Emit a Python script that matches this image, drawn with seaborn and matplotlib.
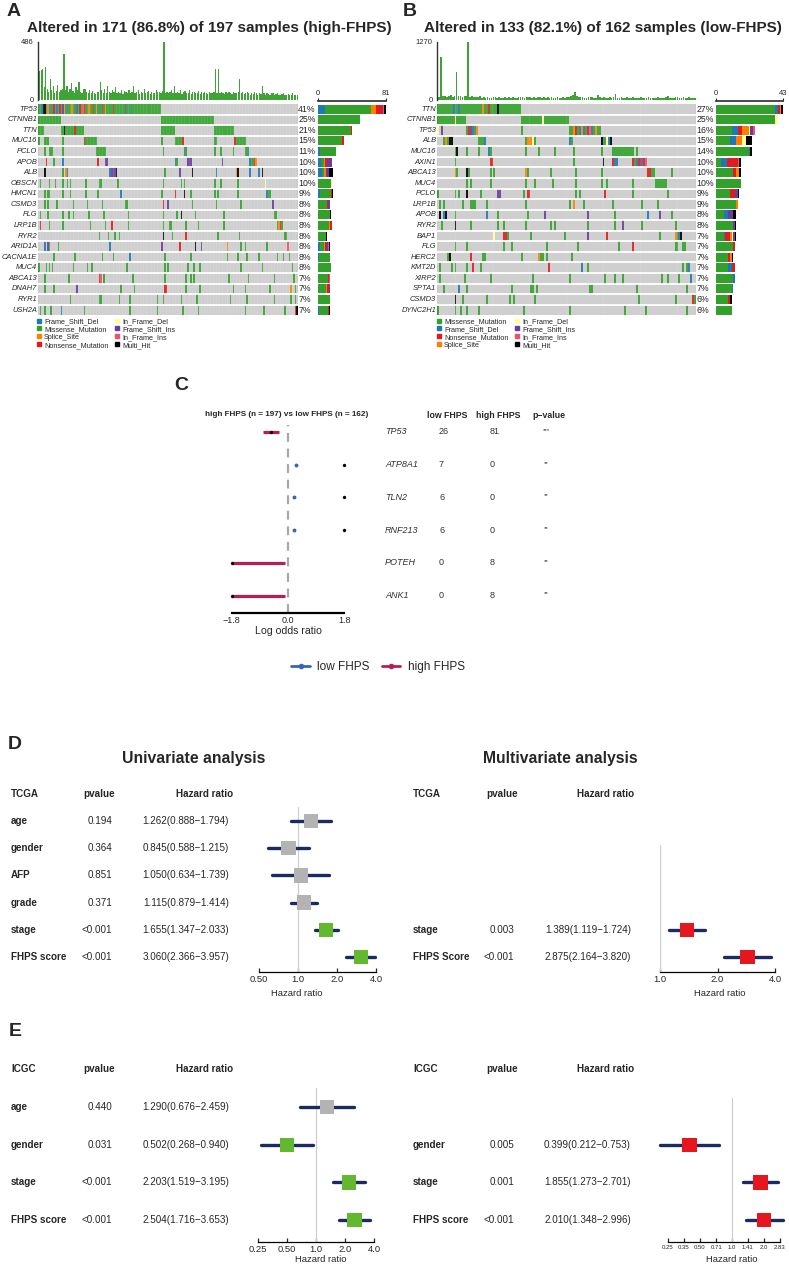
import matplotlib
matplotlib.use("Agg")
import matplotlib.pyplot as plt
import matplotlib.transforms as mtransforms
from matplotlib.colors import ListedColormap
from matplotlib.lines import Line2D
import numpy as np
import pandas as pd
import seaborn as sns

W, H = 789, 1265

# ---------------- oncoplot (panels A, B) ----------------
vc_types = ["Frame_Shift_Del", "Missense_Mutation", "Splice_Site", "Nonsense_Mutation",
            "In_Frame_Del", "Frame_Shift_Ins", "In_Frame_Ins", "Multi_Hit"]
vc_letters = "DMSNIFJX"
vc_colors = ["#1F78B4", "#33A02C", "#FF7F00", "#E31A1C",
             "#FFFF99", "#6A3D9A", "#F0506A", "#000000"]

high_title = "Altered in 171 (86.8%) of 197 samples (high-FHPS)"
high_n = 171
high_genes = ["TP53", "CTNNB1", "TTN", "MUC16", "PCLO", "APOB", "ALB", "OBSCN", "HMCN1", "CSMD3",
              "FLG", "LRP1B", "RYR2", "ARID1A", "CACNA1E", "MUC4", "ABCA13", "DNAH7", "RYR1", "USH2A"]
high_pct = ["41%", "25%", "21%", "15%", "11%", "10%", "10%", "10%", "9%", "8%",
            "8%", "8%", "8%", "8%", "8%", "8%", "7%", "7%", "7%", "7%"]
high_muts = [
    "M0-80 D2,7,9,12,19,25,40,61 S6,17,22,33,38,44 N10,14,27,30,36,42,49 F16,57 J29 X3,4",
    "M0-14,81-115",
    "M0-3,15-29,81-89,116-128 X17 N24",
    "M0,4-6,16,31-38,81,90-94,116,117,130-136 N30,95,129",
    "M4,7-9,16,38-44,82,97,116,120,128,136,137 D96,138",
    "M10,91,140,141 N5,39,142 D16,90,139 F44,45,98-100,121 S143",
    "M16,83 X4,51,101,131,147 S18,130 D19,47,117,139,145 F48-50,93",
    "M1,7,11,16,19,21,31,40,41,52,82,94,96,116,120,131 I149",
    "M4,6,7,16,21,31,39,81,100,116,118,131,151,152 D54,150 N90 X96",
    "M4,6,12,23,32,42,57,58,101,117,133 N82 F85,154",
    "M1,6,16,20,23,33,43,59,82,91,103,122,155,156 X94",
    "M7,16,34,44,59,82,86,87,97,105,122,157,160 N1,48,159 S158",
    "M40,46,50,53,88,118,132,162,163 X82 N97",
    "M7,13,133,136,150 D4,47 F6,81,107 N93 X103 S124 J164",
    "M10,24,42,49,83,100,124,131,137,145,157,161,165 D60",
    "M0,5,7,9,23,32,35,58,83,85,98,102,106,133,147,167",
    "M4,20,43,62,83,97,100,102,125,138,155,168 N40 J41",
    "M4,10,54,63,97,106,128,136,152,169 F25 N83,84 S166",
    "M21,40,41,53,60,78,82,94,104,126,137,155,166,169",
    "M1,4,8,30,60,78,95,105,136,148,162 D15 N169 X170",
]
high_tmb = [
    245, 255, 262, 110, 278, 95, 70, 175, 80, 117, 60, 75, 125, 68, 85, 90, 389, 80, 120,
    70, 95, 139, 75, 60, 110, 80, 153, 70, 55, 90, 89, 70, 60, 85, 55, 75, 60, 50,
    70, 65, 153, 80, 60, 95, 55, 117, 70, 60, 80, 65, 106, 55, 70, 60, 85, 50, 75,
    65, 55, 80, 60, 70, 117, 55, 65, 80, 50, 70, 60, 90, 55, 65, 75, 50, 70, 60,
    55, 80, 65, 70, 60, 75, 486, 60, 70, 55, 65, 80, 60, 117, 55, 70, 60, 80, 50,
    65, 75, 55, 60, 85, 50, 65, 70, 55, 60, 75, 50, 65, 55, 70, 60, 50, 65, 55,
    60, 70, 256, 60, 256, 55, 70, 60, 50, 65, 55, 70, 60, 50, 65, 55, 60, 70, 180,
    55, 65, 50, 60, 70, 55, 45, 60, 50, 65, 55, 45, 60, 50, 117, 55, 45, 60, 50,
    45, 55, 60, 45, 50, 55, 40, 45, 50, 55, 40, 45, 50, 40, 45, 55, 40, 45, 40,
]
high_legend = ["Frame_Shift_Del", "Missense_Mutation", "Splice_Site", "Nonsense_Mutation",
               "In_Frame_Del", "Frame_Shift_Ins", "In_Frame_Ins", "Multi_Hit"]

low_title = "Altered in 133 (82.1%) of 162 samples (low-FHPS)"
low_n = 133
low_genes = ["TTN", "CTNNB1", "TP53", "ALB", "MUC16", "AXIN1", "ABCA13", "MUC4", "PCLO", "LRP1B",
             "APOB", "RYR2", "BAP1", "FLG", "HERC2", "KMT2D", "XIRP2", "SPTA1", "CSMD3", "DYNC2H1"]
low_pct = ["27%", "25%", "16%", "15%", "14%", "10%", "10%", "10%", "9%", "9%",
           "8%", "8%", "7%", "7%", "7%", "7%", "7%", "7%", "6%", "6%"]
low_muts = [
    "M0-42 D8,11 S23 N26 X31",
    "M0-14,43-67 I9,54",
    "M15-20,43,68-83 I0 F2,17 N16,71,77 D18,73,75,79 S20,70,74,81 J78",
    "M3,5,21,22,23,45,50,69,86 S4,46,47,48 X6,7,84,89 D24,68,85,88 I49,87",
    "M9,15,21,27,45,52,60,70,84,90-100,102 X10 D26",
    "M9,70,101 N27,28,90,100,103,104,106 D91,92,102,105 X85 J107",
    "M10,16,27,29,46,58,71,84,110,111,120 S9,45 X15 N108,109",
    "M15,17,27,45,50,59,71,84,87,100,112-117",
    "M0,9,11,22,44,71,73,100,118 X15 F31,32 N46,47,86",
    "M1,3,13,17-19,25,45,68,75,90,105,113 S70",
    "M9,31,46,91,120 X1,4 D3,25,108 F55,77,114",
    "M2,17,31,34,45,58,60,77,91,105,122 X9 F95",
    "M36,48,65,114,123 I29 N34,35,87 F77 S122 D124 X125",
    "M9,15,34,38,56,72,93,122,123,126,127 N100",
    "X6 M5,23,24,43,53,54,56,69 N17 S52",
    "M1,7,9,15,22,77,126,128 N18,57 D74,129",
    "M1,14,27,49,68,86,91,95,115,118,124 D130",
    "M3,15,38,48,49,51,78,79,102,128 D11",
    "X9 M13,25,37,39,50,103,122,132 N131",
    "M0,9,12,15,21,44,68,96,107,128",
]
low_tmb = [
    60, 944, 80, 95, 70, 85, 100, 75, 90, 617, 80, 95, 70, 85, 90, 1270, 75, 80, 60, 70,
    55, 80, 50, 60, 45, 55, 40, 50, 60, 70, 45, 55, 40, 50, 65, 45, 55, 40, 60, 50,
    45, 70, 55, 60, 50, 65, 55, 70, 45, 60, 50, 55, 65, 45, 60, 50, 55, 40, 65, 50,
    45, 55, 40, 50, 60, 45, 55, 65, 85, 120, 181, 90, 60, 55, 70, 50, 45, 60, 55, 65,
    45, 50, 110, 60, 45, 55, 40, 50, 60, 45, 55, 130, 50, 45, 60, 40, 50, 55, 45, 40,
    55, 45, 50, 40, 60, 45, 50, 40, 55, 45, 40, 50, 45, 55, 40, 50, 45, 60, 80, 45,
    50, 40, 55, 70, 45, 50, 60, 45, 40, 55, 45, 50, 40,
]
low_legend = ["Missense_Mutation", "Frame_Shift_Del", "Nonsense_Mutation", "Splice_Site",
              "In_Frame_Del", "Frame_Shift_Ins", "In_Frame_Ins", "Multi_Hit"]

# ---------------- mafCompare forest (panel C) ----------------
mc_title = "high FHPS (n = 197) vs low FHPS (n = 162)"
mc_genes = ["TP53", "ATP8A1", "TLN2", "RNF213", "POTEH", "ANK1"]
mc_low = [26, 7, 6, 6, 0, 0]
mc_high = [81, 0, 0, 0, 8, 8]
mc_stars = ["***", "**", "**", "**", "**", "**"]
mc_log_or = [-0.54, 1.8, 1.8, 1.8, -1.8, -1.8]
mc_ci_lo = [-0.81, 0.27, 0.18, 0.18, -1.8, -1.8]
mc_ci_hi = [-0.28, 0.27, 0.18, 0.18, -0.11, -0.11]
mc_group = ["high FHPS", "low FHPS", "low FHPS", "low FHPS", "high FHPS", "high FHPS"]
mc_colors = {"low FHPS": "#3B64B4", "high FHPS": "#B5204F"}

# ---------------- Cox forest plots (panels D, E) ----------------
tcga_uni_vars = ["age", "gender", "AFP", "grade", "stage", "FHPS score"]
tcga_uni_p = ["0.194", "0.364", "0.851", "0.371", "<0.001", "<0.001"]
tcga_uni_hr = [1.262, 0.845, 1.050, 1.115, 1.655, 3.060]
tcga_uni_lo = [0.888, 0.588, 0.634, 0.879, 1.347, 2.366]
tcga_uni_hi = [1.794, 1.215, 1.739, 1.414, 2.033, 3.957]

tcga_multi_vars = ["stage", "FHPS Score"]
tcga_multi_p = ["0.003", "<0.001"]
tcga_multi_hr = [1.389, 2.875]
tcga_multi_lo = [1.119, 2.164]
tcga_multi_hi = [1.724, 3.820]

icgc_uni_vars = ["age", "gender", "stage", "FHPS score"]
icgc_uni_p = ["0.440", "0.031", "<0.001", "<0.001"]
icgc_uni_hr = [1.290, 0.502, 2.203, 2.504]
icgc_uni_lo = [0.676, 0.268, 1.519, 1.716]
icgc_uni_hi = [2.459, 0.940, 3.195, 3.653]

icgc_multi_vars = ["gender", "stage", "FHPS score"]
icgc_multi_p = ["0.005", "0.001", "<0.001"]
icgc_multi_hr = [0.399, 1.855, 2.010]
icgc_multi_lo = [0.212, 1.273, 1.348]
icgc_multi_hi = [0.753, 2.701, 2.996]

sns.set_theme(style="white")
plt.rcParams["font.family"] = ["Liberation Sans", "DejaVu Sans"]
plt.rcParams["axes.unicode_minus"] = True

fig = plt.figure(figsize=(W / 100, H / 100), dpi=100)


def px_axes(x0, y0, x1, y1):
    return fig.add_axes([x0 / W, 1 - y1 / H, (x1 - x0) / W, (y1 - y0) / H])


def ftext(x, y, s, **kw):
    fig.text(x / W, 1 - y / H, s, **kw)


def parse_muts(spec, n):
    row = np.zeros(n, dtype=int)
    for tok in spec.split():
        code = vc_letters.index(tok[0]) + 1
        for part in tok[1:].split(","):
            a, _, b = part.partition("-")
            b = b or a
            row[int(a):int(b) + 1] = code
    return row


onco_cmap = ListedColormap(["#CBCBCB"] + vc_colors)


def oncoplot(x0, x1, xs0, xs1, genes, pct, muts, tmb, n, legend_order, leg_x):
    mat = np.array([parse_muts(m, n) for m in muts])
    ng = len(genes)

    # mutation burden bars on top
    axt = px_axes(x0, 42, x1, 100)
    axt.bar(np.arange(n) + 0.5, tmb, width=0.85, color="#3FA435", linewidth=0)
    axt.set_xlim(-0.6, n)
    axt.set_ylim(0, max(tmb))
    axt.set_yticks([0, max(tmb)])
    axt.set_xticks([])
    for s in ["top", "right", "bottom"]:
        axt.spines[s].set_visible(False)
    axt.spines["left"].set_linewidth(1.0)
    axt.spines["left"].set_color("#333333")
    axt.tick_params(axis="y", labelsize=5.5, length=2, pad=1, width=0.8)

    # main matrix
    axm = px_axes(x0, 104, x1, 315.3)
    df = pd.DataFrame(mat, index=genes)
    sns.heatmap(df, cmap=onco_cmap, vmin=-0.5, vmax=8.5, cbar=False,
                linewidths=0, xticklabels=False, yticklabels=True, ax=axm)
    axm.vlines(np.arange(1, n), 0, ng, color="white", lw=0.2, alpha=0.6)
    for i in range(1, ng):
        axm.axhline(i, color="white", lw=1.3)
    axm.set_yticklabels(genes, rotation=0, fontstyle="italic", fontsize=5.4)
    axm.tick_params(axis="y", length=0, pad=0.6)
    axm.set_xlabel("")
    axm.set_ylabel("")
    for i, p in enumerate(pct):
        axm.text(n + 0.1, i + 0.5, p, ha="left", va="center", fontsize=6.3)

    # side bars by variant class
    axs = px_axes(xs0, 104, xs1, 315.3)
    left = np.zeros(ng)
    for t in legend_order:
        c = (mat == vc_types.index(t) + 1).sum(axis=1)
        axs.barh(np.arange(ng) + 0.5, c, left=left, height=0.85,
                 color=vc_colors[vc_types.index(t)], linewidth=0)
        left += c
    side_max = int(left.max())
    axs.set_ylim(ng, 0)
    axs.set_xlim(0, side_max)
    axs.xaxis.tick_top()
    axs.set_xticks([0, side_max])
    axs.set_yticks([])
    for s in ["bottom", "left", "right"]:
        axs.spines[s].set_visible(False)
    axs.spines["top"].set_position(("outward", 2))
    axs.spines["top"].set_color("#333333")
    axs.tick_params(axis="x", labelsize=5.5, length=2, pad=1, width=0.8)

    handles = [Line2D([], [], marker="s", ls="", ms=2.6,
                      color=vc_colors[vc_types.index(t)]) for t in legend_order]
    fig.legend(handles, legend_order, ncol=2, loc="upper left",
               bbox_to_anchor=(leg_x / W, 1 - 318 / H), frameon=False,
               fontsize=5.2, handlelength=0.7, handletextpad=0.4,
               columnspacing=0.9, labelspacing=0.12, borderpad=0,
               borderaxespad=0)


oncoplot(38, 298, 318, 386, high_genes, high_pct, high_muts, high_tmb, high_n,
         high_legend, 36)
oncoplot(437, 696, 716, 783, low_genes, low_pct, low_muts, low_tmb, low_n,
         low_legend, 436)
ftext(209, 28, high_title, ha="center", va="center", fontsize=11, fontweight="bold")
ftext(603, 28, low_title, ha="center", va="center", fontsize=11, fontweight="bold")

# ---------------- panel C ----------------
c_row0, c_rowh = 432, 32.7
axc = px_axes(231.7, 420, 344.3, 613)
ys = np.arange(len(mc_genes))
axc.set_xlim(-1.8, 1.8)
axc.set_ylim((613 - c_row0) / c_rowh, (420 - c_row0) / c_rowh)
axc.axvline(0, ymin=0, ymax=1 - 5 / 193, color="#A8A8A8", lw=1.6, ls=(0, (4, 3)))
for y, lo, hi, g in zip(ys, mc_ci_lo, mc_ci_hi, mc_group):
    if lo == hi:
        axc.plot([lo], [y], "o", ms=1.8, color=mc_colors[g], clip_on=False)
    else:
        axc.plot([lo, hi], [y, y], color=mc_colors[g], lw=2.3, clip_on=False,
                 solid_capstyle="butt")
sns.scatterplot(x=mc_log_or, y=ys, color="black", s=5, edgecolor=None, ax=axc,
                zorder=4, clip_on=False)
axc.set_xticks([-1.8, 0, 1.8])
axc.set_xticklabels(["\u22121.8", "0.0", "1.8"])
axc.set_yticks([])
for s in ["top", "left", "right"]:
    axc.spines[s].set_visible(False)
axc.spines["bottom"].set_linewidth(1.6)
axc.spines["bottom"].set_color("black")
axc.tick_params(axis="x", direction="in", length=3, width=1.4, labelsize=6.5, pad=2)
axc.set_xlabel("Log odds ratio", fontsize=7.6, labelpad=1)

trc = mtransforms.blended_transform_factory(fig.transFigure, axc.transData)
hy = (415 - c_row0) / c_rowh
axc.text(287 / W, hy, mc_title, transform=trc, ha="center", va="center",
         fontsize=5.9, fontweight="bold")
axc.text(447 / W, hy, "low FHPS", transform=trc, ha="center", va="center",
         fontsize=6.3, fontweight="bold")
axc.text(498 / W, hy, "high FHPS", transform=trc, ha="center", va="center",
         fontsize=6.3, fontweight="bold")
axc.text(549 / W, hy, "p\u2212value", transform=trc, ha="center", va="center",
         fontsize=6.3, fontweight="bold")
for y, g, a, b, st in zip(ys, mc_genes, mc_low, mc_high, mc_stars):
    axc.text(385 / W, y, g, transform=trc, ha="left", va="center", fontsize=6.5,
             fontstyle="italic", color="#333333")
    axc.text(439 / W, y, str(a), transform=trc, ha="left", va="center", fontsize=6.5,
             color="#333333")
    axc.text(490 / W, y, str(b), transform=trc, ha="left", va="center", fontsize=6.5,
             color="#333333")
    axc.text(546 / W, y - 0.05, st, transform=trc, ha="center", va="center",
             fontsize=4.5, color="#333333")

mc_handles = [Line2D([], [], color=mc_colors[k], lw=2, marker="o", ms=3)
              for k in ["low FHPS", "high FHPS"]]
fig.legend(mc_handles, ["low FHPS", "high FHPS"], ncol=2, loc="center",
           bbox_to_anchor=(378 / W, 1 - 667 / H), frameon=False, fontsize=8.5,
           handlelength=1.6, handletextpad=0.6, columnspacing=1.0)

# ---------------- panels D, E ----------------
NAVY = "#1B2A62"
GREEN = "#62B82F"
GREY = "#B3B3B3"
RED = "#E5161D"


def forest(x0, x1, ax_top, y_axis, row0, rowh, rows, names, pvals, hr, lo, hi,
           colors, xlim, ticks, ticklabels, tick_fs, vtop, side, header):
    ax = px_axes(x0, ax_top, x1, y_axis)
    ax.set_xscale("log", base=2)
    ax.set_xlim(*xlim)
    ax.set_ylim((y_axis - row0) / rowh, (ax_top - row0) / rowh)
    bottom = (y_axis - row0) / rowh
    ax.plot([1, 1], [vtop, bottom], color="#CFCFCF", lw=0.9, zorder=1)
    ax.hlines(rows, lo, hi, color=NAVY, lw=2.4, capstyle="round", zorder=2,
              clip_on=False)
    sns.scatterplot(x=hr, y=rows, hue=colors, palette={c: c for c in colors},
                    marker="s", s=105, linewidth=0, legend=False, ax=ax,
                    zorder=3, clip_on=False)
    ax.set_xticks(ticks)
    ax.set_xticklabels(ticklabels)
    ax.minorticks_off()
    ax.set_yticks([])
    ax.set_xlabel("")
    ax.set_ylabel("")
    for s in ["top", "left", "right"]:
        ax.spines[s].set_visible(False)
    ax.spines["bottom"].set_linewidth(0.9)
    ax.spines["bottom"].set_color("black")
    ax.tick_params(axis="x", direction="in", length=3, width=0.9,
                   labelsize=tick_fs, pad=2, bottom=True)

    if side == "left":
        nx, pr, hrr, phc, hrh = 11, 112, 229, 99, 233
    else:
        nx, pr, hrr, phc, hrh = 413, 514, 631, 502, 634
    tr = mtransforms.blended_transform_factory(fig.transFigure, ax.transData)
    fs = 7.1
    ax.text(nx / W, -1, header, transform=tr, ha="left", va="center",
            fontsize=fs, fontweight="bold")
    ax.text(phc / W, -1, "pvalue", transform=tr, ha="center", va="center",
            fontsize=fs, fontweight="bold")
    ax.text(hrh / W, -1, "Hazard ratio", transform=tr, ha="right", va="center",
            fontsize=fs, fontweight="bold")
    for r, nm, p, h, l, u in zip(rows, names, pvals, hr, lo, hi):
        ax.text(nx / W, r, nm, transform=tr, ha="left", va="center",
                fontsize=fs, fontweight="bold")
        ax.text(pr / W, r, p, transform=tr, ha="right", va="center", fontsize=fs)
        ax.text(hrr / W, r, f"{h:.3f}({l:.3f}\u2212{u:.3f})", transform=tr,
                ha="right", va="center", fontsize=fs)
    return ax


def sig_colors(pvals, sig, nonsig):
    return [sig if (p.startswith("<") or float(p) < 0.05) else nonsig for p in pvals]


# D: TCGA
forest(259, 376, 785, 972, 821, 27.2, list(range(6)), tcga_uni_vars, tcga_uni_p,
       tcga_uni_hr, tcga_uni_lo, tcga_uni_hi,
       sig_colors(tcga_uni_p, GREEN, GREY), (0.5, 4), [0.5, 1, 2, 4],
       ["0.50", "1.0", "2.0", "4.0"], 6.8, -0.51, "left", "TCGA")
forest(660, 775, 785, 972, 821, 27.2, [4, 5], tcga_multi_vars, tcga_multi_p,
       tcga_multi_hr, tcga_multi_lo, tcga_multi_hi,
       [RED] * 2, (1, 4), [1, 2, 4], ["1.0", "2.0", "4.0"], 6.8, 0.88,
       "right", "TCGA")
# E: ICGC
forest(258, 374, 1060, 1242, 1107, 37.7, list(range(4)), icgc_uni_vars, icgc_uni_p,
       icgc_uni_hr, icgc_uni_lo, icgc_uni_hi,
       sig_colors(icgc_uni_p, GREEN, GREY), (0.25, 4), [0.25, 0.5, 1, 2, 4],
       ["0.25", "0.50", "1.0", "2.0", "4.0"], 6.8, -0.5, "left", "ICGC")
forest(668, 780, 1060, 1242, 1107, 37.7, [1, 2, 3], icgc_multi_vars, icgc_multi_p,
       icgc_multi_hr, icgc_multi_lo, icgc_multi_hi,
       [RED] * 3, (0.25, 2.83),
       [0.25, 0.35, 0.5, 0.71, 1, 1.41, 2, 2.83],
       ["0.25", "0.35", "0.50", "0.71", "1.0", "1.41", "2.0", "2.83"], 4.3, -0.24,
       "right", "ICGC")

ftext(297, 994, "Hazard ratio", ha="center", va="center", fontsize=6.8)
ftext(720, 994, "Hazard ratio", ha="center", va="center", fontsize=6.8)
ftext(321, 1259, "Hazard ratio", ha="center", va="center", fontsize=6.8)
ftext(732, 1259, "Hazard ratio", ha="center", va="center", fontsize=6.8)
ftext(194, 758, "Univariate analysis", ha="center", va="center", fontsize=11.3,
      fontweight="bold")
ftext(560, 758, "Multivariate analysis", ha="center", va="center", fontsize=11.3,
      fontweight="bold")

# panel letters
for lab, x, y in [("A", 14, 12), ("B", 410, 12), ("C", 181, 385),
                  ("D", 15, 744), ("E", 15, 1032)]:
    ftext(x, y, lab, ha="center", va="center", fontsize=14, fontweight="bold")

fig.savefig("out.png", dpi=100)
